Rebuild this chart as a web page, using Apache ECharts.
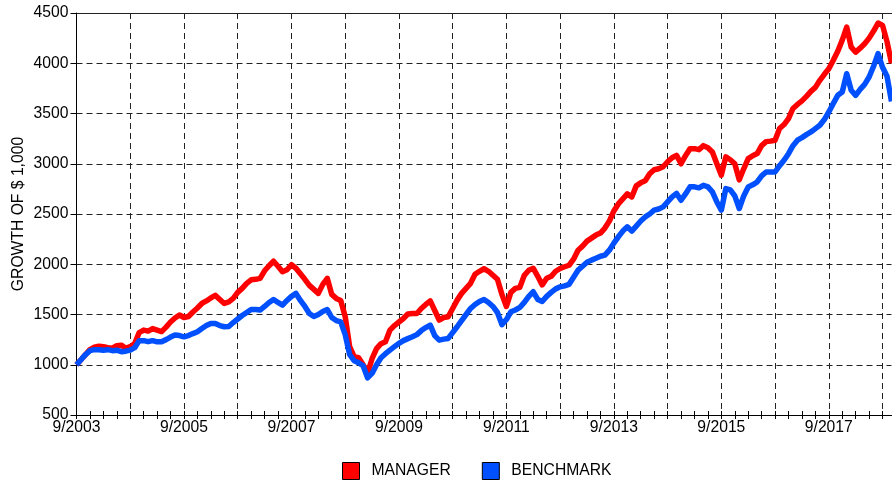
<!DOCTYPE html>
<html>
<head>
<meta charset="utf-8">
<script src="https://cdn.jsdelivr.net/npm/echarts@6/dist/echarts.min.js"></script>
<style>
html,body{margin:0;padding:0;background:#fff;}
#chart{width:892px;height:482px;}
</style>
</head>
<body>
<div id="chart"></div>
<script>
// Monthly observations starting 9/2003
var startYear = 2003, startMonth = 9;
var seriesNames = ['MANAGER', 'BENCHMARK'];
var yTicks = {min: 500, max: 4500, step: 500};

var manager = [
1000,1050,1100,1150,1175,1185,1180,1170,1165,1190,1195,1165,
1180,1210,1320,1345,1335,1360,1345,1330,1375,1425,1465,1495,
1470,1480,1525,1565,1610,1635,1665,1690,1650,1610,1625,1660,
1720,1760,1810,1845,1850,1860,1935,1985,2030,1980,1925,1945,
1995,1960,1905,1850,1790,1750,1710,1800,1860,1700,1660,1640,
1480,1180,1080,1070,1000,915,1060,1160,1210,1230,1345,1390,
1425,1460,1505,1510,1510,1560,1600,1635,1540,1445,1470,1477,
1560,1643,1710,1760,1810,1900,1930,1955,1930,1890,1850,1700,
1580,1720,1760,1770,1890,1940,1960,1880,1795,1860,1880,1930,
1958,1975,1990,2050,2140,2180,2230,2260,2290,2310,2360,2430,
2530,2600,2650,2700,2670,2780,2810,2830,2900,2940,2950,2970,
3020,3060,3084,3000,3080,3150,3150,3140,3180,3160,3117,3000,
2886,3068,3040,3000,2840,2950,3051,3080,3101,3180,3220,3225,
3234,3350,3390,3450,3550,3590,3625,3670,3720,3760,3830,3890,
3946,4030,4120,4230,4360,4160,4111,4150,4194,4250,4320,4400,
4377,4215,4000
];

var benchmark = [
1000,1050,1100,1140,1150,1150,1145,1150,1140,1145,1130,1135,
1146,1170,1240,1240,1230,1240,1228,1230,1250,1275,1295,1290,
1278,1290,1310,1328,1360,1390,1411,1410,1390,1378,1380,1420,
1455,1490,1520,1550,1550,1544,1580,1620,1650,1620,1593,1640,
1680,1710,1640,1580,1510,1480,1500,1530,1550,1470,1440,1427,
1300,1100,1040,1020,990,870,914,1000,1070,1110,1146,1180,
1213,1240,1260,1278,1300,1340,1370,1395,1290,1245,1255,1262,
1320,1378,1440,1500,1560,1600,1630,1650,1620,1580,1520,1400,
1450,1527,1545,1570,1620,1680,1726,1650,1630,1680,1720,1755,
1775,1785,1800,1870,1941,1980,2020,2041,2060,2080,2091,2140,
2210,2273,2330,2372,2330,2380,2430,2471,2500,2538,2550,2571,
2620,2670,2704,2637,2700,2770,2770,2760,2786,2770,2720,2620,
2538,2753,2740,2680,2555,2680,2769,2790,2819,2880,2918,2918,
2918,2980,3035,3100,3180,3234,3260,3290,3316,3350,3383,3440,
3515,3600,3681,3714,3896,3731,3681,3740,3790,3863,3970,4095,
3960,3870,3620
];

var categories = [];
for (var i = 0; i < manager.length; i++) {
  var mm = (startMonth - 1 + i) % 12 + 1;
  var yy = startYear + Math.floor((startMonth - 1 + i) / 12);
  categories.push(mm + '/' + yy);
}

var FONT = '"Liberation Sans", Arial, sans-serif';
var FS = 15.7;
var chart = echarts.init(document.getElementById('chart'), null, {renderer: 'canvas'});

chart.setOption({
  animation: false,
  backgroundColor: '#ffffff',
  grid: {left: 76.5, top: 13, width: 815, height: 402},
  legend: {
    data: seriesNames,
    top: 457,
    left: 337,
    icon: 'rect',
    itemWidth: 17,
    itemHeight: 17,
    itemGap: 31,
    itemStyle: {borderColor: '#000', borderWidth: 1},
    textStyle: {fontFamily: FONT, fontSize: FS, color: '#000', padding: [0, 0, 0, 7]}
  },
  xAxis: [
    {
      type: 'category',
      data: categories,
      boundaryGap: false,
      position: 'bottom',
      axisLine: {show: true, lineStyle: {color: '#000', width: 1}},
      axisTick: {show: true, length: 4, inside: false,
        interval: function (idx) { return idx % 3 === 0; },
        lineStyle: {color: '#000'}},
      axisLabel: {
        interval: function (idx) { return idx % 24 === 0; },
        fontFamily: FONT, fontSize: FS, color: '#000', margin: 5
      },
      splitLine: {show: true,
        interval: function (idx) { return idx % 12 === 0 && idx > 0; },
        lineStyle: {color: '#222', type: [6, 4], width: 1}}
    },
    {
      type: 'category',
      data: categories,
      boundaryGap: false,
      position: 'bottom',
      axisLine: {show: false},
      axisTick: {show: true, length: 4, inside: true,
        interval: function (idx) { return idx % 3 === 0; },
        lineStyle: {color: '#000'}},
      axisLabel: {show: false},
      splitLine: {show: false}
    },
    {
      type: 'category',
      data: categories,
      boundaryGap: false,
      position: 'top',
      axisLine: {show: true, lineStyle: {color: '#222', width: 1}},
      axisTick: {show: false},
      axisLabel: {show: false},
      splitLine: {show: false}
    }
  ],
  yAxis: {
    type: 'value',
    min: yTicks.min,
    max: yTicks.max,
    interval: yTicks.step,
    name: 'GROWTH OF $ 1,000',
    nameLocation: 'middle',
    nameGap: 50,
    nameMoveOverlap: false,
    nameRotate: 90,
    nameTextStyle: {fontFamily: FONT, fontSize: FS, color: '#000'},
    axisLine: {show: true, lineStyle: {color: '#000', width: 1}},
    axisTick: {show: true, length: 6, lineStyle: {color: '#000'}},
    axisLabel: {fontFamily: FONT, fontSize: FS, color: '#000', margin: 8,
      formatter: function (v) { return String(v); }},
    splitLine: {show: true, lineStyle: {color: '#222', type: [6, 4], width: 1}}
  },
  series: [
    {
      name: seriesNames[0],
      type: 'line',
      data: manager,
      showSymbol: false,
      symbol: 'none',
      lineStyle: {color: '#ff0000', width: 5.5, join: 'round'},
      itemStyle: {color: '#ff0000'},
      z: 3
    },
    {
      name: seriesNames[1],
      type: 'line',
      data: benchmark,
      showSymbol: false,
      symbol: 'none',
      lineStyle: {color: '#0050ff', width: 5.5, join: 'round'},
      itemStyle: {color: '#0050ff'},
      z: 4
    }
  ]
});
</script>
</body>
</html>
